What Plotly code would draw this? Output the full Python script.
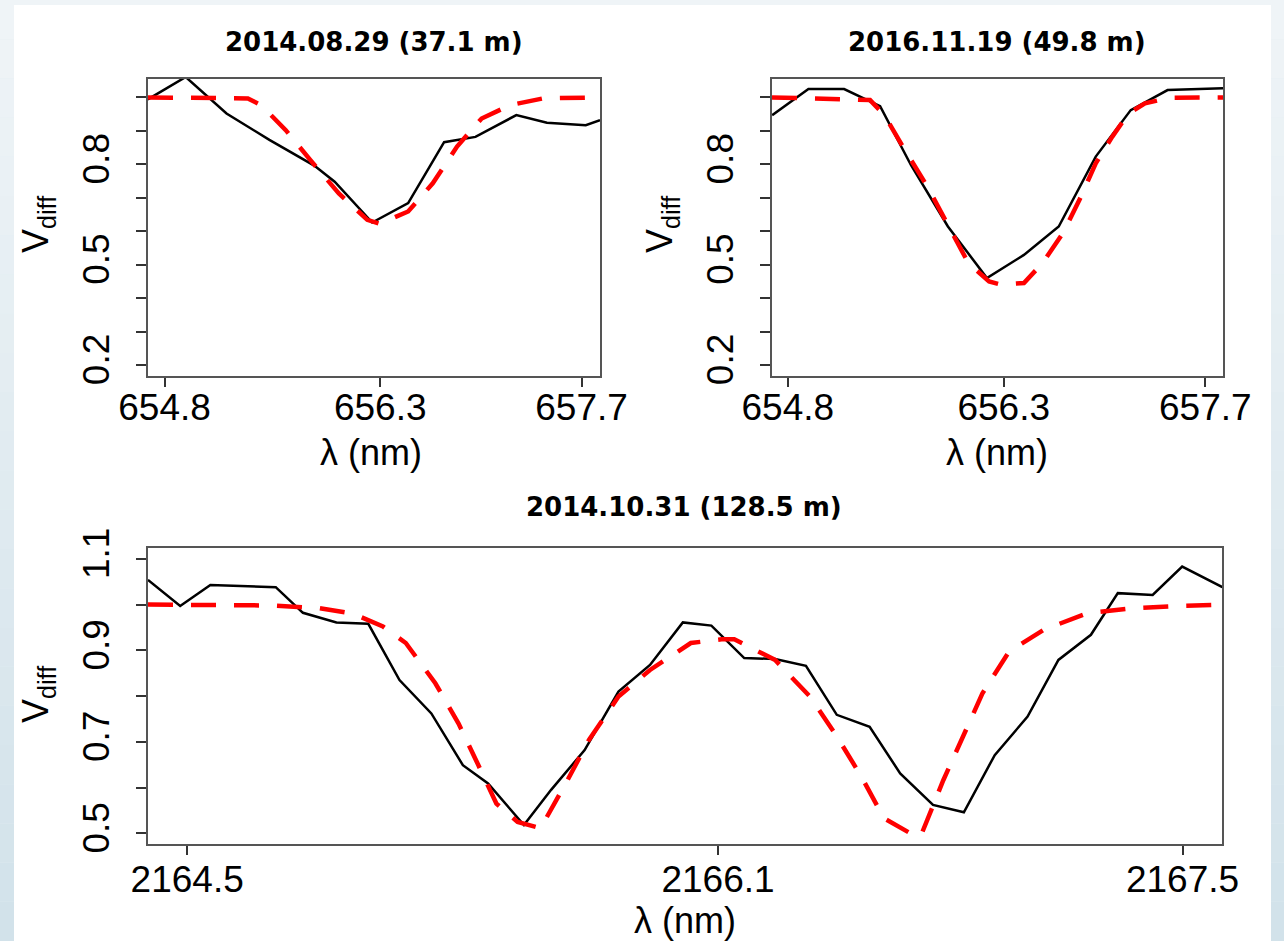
import plotly.graph_objects as go

W, H = 1284, 941

# ---------------- data ----------------
tl_title = "2014.08.29 (37.1 m)"
tr_title = "2016.11.19 (49.8 m)"
b_title = "2014.10.31 (128.5 m)"

tl_obs_x = [654.684, 654.947, 655.231, 655.529, 655.841, 655.983, 656.244, 656.494,
            656.744, 656.962, 657.246, 657.459, 657.729, 657.828]
tl_obs_y = [0.994, 1.061, 0.952, 0.873, 0.796, 0.748, 0.626, 0.684,
            0.866, 0.882, 0.947, 0.924, 0.917, 0.932]
tl_mod_x = [654.685, 655.380, 655.472, 655.643, 655.813, 656.012, 656.210, 656.296,
            656.494, 656.665, 656.834, 657.005, 657.204, 657.431, 657.828]
tl_mod_y = [1.000, 0.997, 0.977, 0.902, 0.813, 0.713, 0.634, 0.622,
            0.659, 0.743, 0.853, 0.937, 0.977, 0.997, 1.000]

tr_obs_x = [654.691, 654.943, 655.191, 655.441, 655.655, 655.912, 656.183, 656.440,
            656.682, 656.939, 657.182, 657.438, 657.823]
tr_obs_y = [0.947, 1.025, 1.025, 0.974, 0.798, 0.614, 0.460, 0.529,
            0.614, 0.823, 0.962, 1.022, 1.027]
tr_mod_x = [654.690, 655.371, 655.471, 655.598, 655.770, 655.941, 656.055, 656.198,
            656.283, 656.440, 656.568, 656.711, 656.825, 656.939, 657.053, 657.167,
            657.281, 657.453, 657.823]
tr_mod_y = [1.000, 0.992, 0.947, 0.853, 0.733, 0.594, 0.504, 0.450,
            0.440, 0.445, 0.504, 0.594, 0.693, 0.803, 0.882, 0.952,
            0.982, 0.999, 1.000]

b_obs_x = [2164.382, 2164.479, 2164.570, 2164.767, 2164.849, 2164.950, 2165.046, 2165.140,
           2165.236, 2165.331, 2165.407, 2165.515, 2165.597, 2165.698, 2165.800, 2165.895,
           2165.994, 2166.080, 2166.179, 2166.272, 2166.365, 2166.458, 2166.557, 2166.649,
           2166.748, 2166.841, 2166.934, 2167.033, 2167.126, 2167.224, 2167.305, 2167.410,
           2167.499, 2167.620]
b_obs_y = [1.054, 0.997, 1.043, 1.038, 0.982, 0.961, 0.958, 0.835,
           0.762, 0.649, 0.609, 0.518, 0.595, 0.682, 0.810, 0.868,
           0.961, 0.954, 0.883, 0.881, 0.866, 0.759, 0.733, 0.631,
           0.562, 0.546, 0.671, 0.755, 0.879, 0.934, 1.025, 1.021,
           1.083, 1.038]
b_mod_x = [2164.382, 2164.760, 2164.900, 2165.001, 2165.090, 2165.159, 2165.248, 2165.318,
           2165.375, 2165.432, 2165.496, 2165.565, 2165.641, 2165.711, 2165.800, 2165.895,
           2166.018, 2166.111, 2166.149, 2166.272, 2166.377, 2166.458, 2166.532, 2166.600,
           2166.680, 2166.711, 2166.779, 2166.841, 2166.897, 2166.977, 2167.082, 2167.212,
           2167.348, 2167.484, 2167.620]
b_mod_y = [1.000, 0.998, 0.992, 0.980, 0.952, 0.916, 0.828, 0.740,
           0.653, 0.565, 0.525, 0.511, 0.609, 0.704, 0.799, 0.857,
           0.916, 0.924, 0.924, 0.879, 0.799, 0.712, 0.624, 0.533,
           0.500, 0.494, 0.616, 0.718, 0.806, 0.897, 0.945, 0.981,
           0.992, 0.997, 1.000]

top_xticks = [654.8, 656.3, 657.7]
bot_xticks = [2164.5, 2166.1, 2167.5]
top_yticks = [0.2, 0.3, 0.4, 0.5, 0.6, 0.7, 0.8, 0.9, 1.0]
top_ylabels = ["0.2", "", "", "0.5", "", "", "0.8", "", ""]
bot_yticks = [0.5, 0.6, 0.7, 0.8, 0.9, 1.0, 1.1]
bot_ylabels = ["0.5", "", "0.7", "", "0.9", "", "1.1"]

x_label = "λ (nm)"
y_label = "V<sub>diff</sub>"

# ---------------- styling ----------------
def px(x):
    return x / W

def py(y):
    return 1 - y / H

TICK_FONT = dict(family="Liberation Sans, Arial, sans-serif", size=37, color="black")
LAB_FONT = dict(family="Liberation Sans, Arial, sans-serif", size=36, color="black")
TITLE_FONT = dict(family="DejaVu Sans, sans-serif", size=26, color="black", weight="bold")

OBS_LINE = dict(color="black", width=2.5)
MOD_LINE = dict(color="#ff0000", width=4.5, dash="25px,18px")

fig = go.Figure()

panels = [
    ("x", "y", tl_obs_x, tl_obs_y, tl_mod_x, tl_mod_y),
    ("x2", "y2", tr_obs_x, tr_obs_y, tr_mod_x, tr_mod_y),
    ("x3", "y3", b_obs_x, b_obs_y, b_mod_x, b_mod_y),
]
for xa, ya, ox, oy, mx, my in panels:
    fig.add_trace(go.Scatter(x=ox, y=oy, mode="lines", line=OBS_LINE,
                             xaxis=xa, yaxis=ya, showlegend=False, hoverinfo="skip"))
    fig.add_trace(go.Scatter(x=mx, y=my, mode="lines", line=MOD_LINE,
                             xaxis=xa, yaxis=ya, showlegend=False, hoverinfo="skip"))

def xaxis(domain, rng, ticks, anchor, standoff):
    return dict(domain=domain, range=rng, anchor=anchor, tickvals=ticks,
                ticktext=[f"{t:g}" for t in ticks], ticks="outside", ticklen=9,
                tickwidth=2, tickcolor="#333", showline=True, mirror=True,
                linecolor="#555", linewidth=2, showgrid=False, zeroline=False,
                tickfont=TICK_FONT, ticklabelstandoff=standoff, fixedrange=True,
                automargin=False)

def yaxis(domain, rng, ticks, labels, anchor):
    return dict(domain=domain, range=rng, anchor=anchor, tickvals=ticks,
                ticktext=labels, ticks="outside", ticklen=10, tickwidth=2,
                tickcolor="#333", showline=True, mirror=True, linecolor="#555",
                linewidth=2, showgrid=False, zeroline=False, tickfont=TICK_FONT,
                tickangle=-90, ticklabelstandoff=12, fixedrange=True,
                automargin=False)

top_ydom = [py(376), py(79)]
bot_ydom = [py(844.3), py(548.3)]

fig.update_layout(
    xaxis=xaxis([px(148), px(600)], [654.685, 657.828], top_xticks, "y", -11),
    yaxis=yaxis(top_ydom, [0.167, 1.055], top_yticks, top_ylabels, "x"),
    xaxis2=xaxis([px(772), px(1223)], [654.690, 657.823], top_xticks, "y2", -11),
    yaxis2=yaxis(top_ydom, [0.167, 1.055], top_yticks, top_ylabels, "x2"),
    xaxis3=xaxis([px(148), px(1222)], [2164.382, 2167.619], bot_xticks, "y3", -8),
    yaxis3=yaxis(bot_ydom, [0.476, 1.123], bot_yticks, bot_ylabels, "x3"),
)

# background: light bluish frame with vertical gradient, white panel
shapes = []
n = 24
c0 = (0xEF, 0xF4, 0xF7)
c1 = (0xD2, 0xE2, 0xEA)
for i in range(n):
    t = i / (n - 1)
    col = "rgb(%d,%d,%d)" % tuple(round(a + (b - a) * t) for a, b in zip(c0, c1))
    shapes.append(dict(type="rect", xref="paper", yref="paper", layer="below",
                       x0=0, x1=1, y0=1 - (i + 1) / n, y1=1 - i / n,
                       fillcolor=col, line=dict(width=0)))
shapes.append(dict(type="rect", xref="paper", yref="paper", layer="below",
                   x0=px(14), x1=px(1271), y0=0, y1=py(5),
                   fillcolor="white", line=dict(width=0)))

annotations = []
for txt, cx, cy in [(tl_title, 374, 42), (tr_title, 997, 42), (b_title, 684, 507)]:
    annotations.append(dict(text=txt, x=px(cx), y=py(cy), xref="paper", yref="paper",
                            showarrow=False, xanchor="center", yanchor="middle",
                            font=TITLE_FONT))
for cx, cy in [(371, 452), (997, 452), (685, 920)]:
    annotations.append(dict(text=x_label, x=px(cx), y=py(cy), xref="paper", yref="paper",
                            showarrow=False, xanchor="center", yanchor="middle",
                            font=LAB_FONT))
for cx, cy in [(38, 224), (662, 224), (38, 694)]:
    annotations.append(dict(text=y_label, x=px(cx), y=py(cy), xref="paper", yref="paper",
                            showarrow=False, xanchor="center", yanchor="middle",
                            textangle=-90, font=LAB_FONT))

fig.update_layout(
    width=W, height=H, margin=dict(l=0, r=0, t=0, b=0, pad=0, autoexpand=False),
    paper_bgcolor="#e2edf2", plot_bgcolor="white",
    shapes=shapes, annotations=annotations, showlegend=False,
)

fig.write_html("out.html", config={"displayModeBar": False})
